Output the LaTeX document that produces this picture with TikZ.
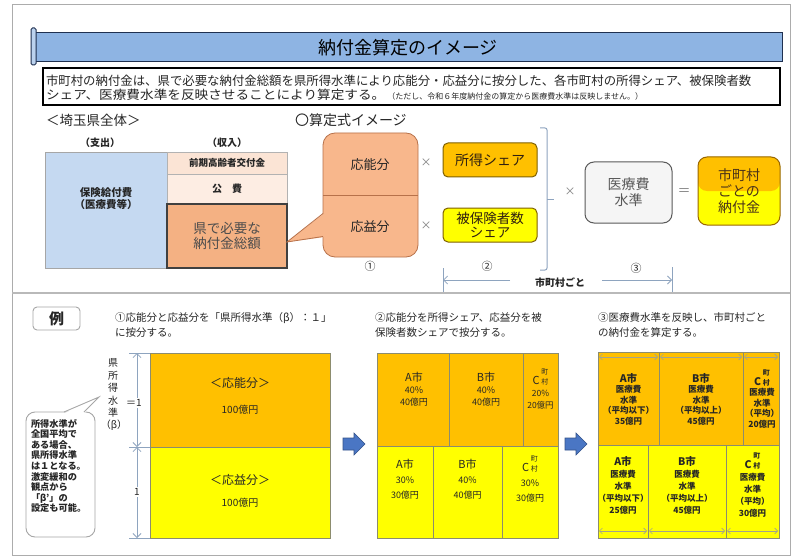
\documentclass[tikz,border=0pt]{standalone}
\usepackage{fontspec}
\usepackage{graphicx}
\setmainfont{Noto Sans CJK JP}
\usetikzlibrary{arrows.meta}
\newcommand\fsz[2]{\fontsize{#1}{#2}\selectfont}
\newcommand\cmc{C\,\shortstack{{\fsz{7}{7}町}\\{\fsz{7}{7}村}}}
\definecolor{tbar}{HTML}{8EB4E3}
\definecolor{tbarline}{HTML}{1F3050}
\definecolor{kblue}{HTML}{C5D9F1}
\definecolor{peachA}{HTML}{FBE4D5}
\definecolor{peachB}{HTML}{FDEDE3}
\definecolor{sorange}{HTML}{F4B183}
\definecolor{callout}{HTML}{F8B78C}
\definecolor{calloutline}{HTML}{B7714A}
\definecolor{gold}{HTML}{FFC000}
\definecolor{yel}{HTML}{FFFF00}
\definecolor{brownline}{HTML}{7F6000}
\definecolor{dimc}{HTML}{8EA4BF}
\definecolor{arrowblue}{HTML}{4A76C4}
\definecolor{gridline}{HTML}{8C8C6E}
\definecolor{txt}{HTML}{262626}
\tikzset{
  lbl/.style={text=txt},
  gridbox/.style={draw=gridline, line width=0.7pt},
  dim/.style={draw=dimc, line width=0.8pt},
  garrow/.style={draw=gridline!80, line width=0.6pt, {Straight Barb[length=3pt]}-{Straight Barb[length=3pt]}},
  barrow/.pic={\draw[fill=arrowblue, draw=arrowblue!70!black, line width=0.6pt] (-11,-6) -- (0,-6) -- (0,-11) -- (11,0) -- (0,11) -- (0,6) -- (-11,6) -- cycle;}
}
\begin{document}
\begin{tikzpicture}[x=1pt,y=-1pt, every node/.style={inner sep=0pt,outer sep=0pt}]
\useasboundingbox[fill=white] (0,0) rectangle (798,559);
\draw[gray!65, line width=1pt] (12,5) rectangle (790,555);

% ---------- title ----------
\node[draw=tbarline, line width=1pt, fill=tbar, minimum width=748pt, minimum height=29pt] (title) at (408,47.5) {\fsz{18}{20}納付金算定のイメージ};
\draw[tbarline, line width=1pt, fill=tbar!60, rounded corners=1.5pt] (31,28) rectangle (36,65);

% ---------- description ----------
\node[draw=black, line width=1.1pt, minimum width=737pt, minimum height=37pt] (desc) at (411.5,86.5) {};
\node[anchor=base west, font=\fsz{12.4}{14}, lbl] (d1) at (46,85.5) {市町村の納付金は、県で必要な納付金総額を県所得水準により応能分・応益分に按分した、各市町村の所得シェア、被保険者数};
\node[anchor=base west, font=\fsz{12.4}{14}, lbl] (d2) at (46,99.5) {\scalebox{1.1}[1]{シェア、医療費水準を反映させることにより算定する。}\,{\fsz{8}{9}（ただし、令和６年度納付金の算定から医療費水準は反映しません。）}};

% ---------- left block ----------
\node[anchor=west, font=\fsz{13.5}{15}, lbl] (zentai) at (46,120) {＜埼玉県全体＞};
\node[font=\fsz{10}{12}\bfseries, lbl] (shishutsu) at (100,143) {（支出）};
\node[font=\fsz{10}{12}\bfseries, lbl] (shunyu) at (227,143) {（収入）};
\node[draw=gray!70, line width=0.8pt, fill=kblue, minimum width=122pt, minimum height=116pt] (kyufu) at (106,210) {};
\node[font=\fsz{10.5}{12}\bfseries, lbl, align=center] (kyufut) at (106,199) {保険給付費\\（医療費等）};
\node[draw=gray!60, line width=0.8pt, fill=peachA, minimum width=120pt, minimum height=22pt, font=\fsz{9.5}{11}\bfseries, lbl] (zenki) at (227,163) {前期高齢者交付金};
\node[draw=gray!60, line width=0.8pt, fill=peachB, minimum width=120pt, minimum height=30pt, font=\fsz{10}{11}\bfseries, lbl] (kouhi) at (227,189) {公\quad 費};
\node[draw=black!75, line width=1.4pt, fill=sorange, minimum width=120pt, minimum height=64pt, font=\fsz{13.5}{15.5}, text=black!70, align=center] (hitsuyou) at (227,236) {県で必要な\\納付金総額};

% ---------- formula ----------
\node[anchor=west, font=\fsz{14}{16}, lbl] (sanshiki) at (295,120) {〇算定式イメージ};
\draw[calloutline, line width=0.8pt, fill=callout, rounded corners=12pt] (323,133) rectangle (418,257);
\fill[callout] (324.5,213) -- (287,242) -- (324.5,237) -- cycle;
\draw[calloutline, line width=0.8pt] (323,213.5) -- (287,242) -- (323,236.5);
\draw[calloutline, line width=0.8pt] (323,195) -- (418,195);
\node[font=\fsz{13}{15}, lbl] (ono) at (370,165) {応能分};
\node[font=\fsz{13}{15}, lbl] (oeki) at (370,227) {応益分};
\node[font=\fsz{11}{12}, lbl] (n1) at (370,266) {①};
\node[font=\fsz{11}{12}, text=gray] (x1) at (426,163) {×};
\node[font=\fsz{11}{12}, text=gray] (x2) at (426,226) {×};
\node[draw=brownline, line width=1pt, fill=gold, rounded corners=5pt, minimum width=94pt, minimum height=34pt, font=\fsz{14}{16}, text=black!75!brown] (shotoku) at (490,160) {所得シェア};
\node[draw=brownline, line width=1pt, fill=yel, rounded corners=5pt, minimum width=94pt, minimum height=34pt, font=\fsz{13.5}{14.5}, text=black!75!brown, align=center] (hihoken) at (490,225) {被保険者数\\シェア};
\node[font=\fsz{11}{12}, lbl] (n2) at (487,266) {②};
\draw[dimc, line width=1pt, rounded corners=2pt] (540,128) -- (547,128) -- (547,270) -- (540,270);
\draw[dimc, line width=1pt] (547,199) -- (554,199);
\node[font=\fsz{11}{12}, text=gray] (x3) at (570,192) {×};
\node[draw=black!65, line width=1pt, fill=gray!8, rounded corners=9pt, minimum width=87pt, minimum height=61pt, font=\fsz{14}{16}, text=black!65, align=center] (iryo) at (628.5,192.5) {医療費\\水準};
\node[font=\fsz{13}{14}, text=gray] (eq) at (684,192) {＝};
\node[draw=brownline!80!orange, line width=1pt, fill=yel, rounded corners=9pt, minimum width=82pt, minimum height=68pt, font=\fsz{14}{16}, text=black!60!brown, align=center,
  path picture={\fill[gold] (path picture bounding box.north west) rectangle (path picture bounding box.east);}] (nofu) at (739,191) {市町村\\ごとの\\納付金};
\coordinate (la1) at (510,280); \coordinate (la2) at (443,280);
\coordinate (lt1) at (443,268); \coordinate (lt2) at (443,292);
\draw[dim, -{Straight Barb[length=4pt]}] (la1) -- (la2);
\draw[dim] (lt1) -- (lt2);
\node[font=\fsz{10}{12}\bfseries, lbl] (goto) at (560,283) {市町村ごと};
\coordinate (ra1) at (602,280); \coordinate (ra2) at (672,280);
\coordinate (rt1) at (672,267); \coordinate (rt2) at (672,292);
\draw[dim, -{Straight Barb[length=4pt]}] (ra1) -- (ra2);
\draw[dim] (rt1) -- (rt2);
\node[font=\fsz{11}{12}, lbl] (n3) at (636,268) {③};

% ---------- separator ----------
\draw[gray!55, line width=1.6pt] (12,293) -- (790,293);

% ---------- example ----------
\node[draw=gray!70, line width=0.9pt, rounded corners=4pt, minimum width=47pt, minimum height=23pt, font=\fsz{15}{16}\bfseries, lbl] (rei) at (56.5,318.5) {例};
\node[anchor=north west, align=left, font=\fsz{10.5}{15}, lbl] (s1) at (115,313) {①応能分と応益分を「県所得水準（β）：１」\\に按分する。};
\node[anchor=north west, align=left, font=\fsz{10.5}{15}, lbl] (s2) at (375,313) {②応能分を所得シェア、応益分を被\\保険者数シェアで按分する。};
\node[anchor=north west, align=left, font=\fsz{10.5}{15}, lbl] (s3) at (598,313) {③医療費水準を反映し、市町村ごと\\の納付金を算定する。};

% panel 1
\draw[gridbox, fill=gold] (150,353) rectangle (330,447);
\draw[gridbox, fill=yel] (150,447) rectangle (330,538);
\node[font=\fsz{12}{14}, lbl] (p1a) at (240,383) {＜応能分＞};
\node[font=\fsz{10}{12}, lbl] (p1b) at (240,410) {100億円};
\node[font=\fsz{12}{14}, lbl] (p1c) at (240,480) {＜応益分＞};
\node[font=\fsz{10}{12}, lbl] (p1d) at (240,503) {100億円};
\coordinate (dt) at (137,353); \coordinate (dm) at (137,447); \coordinate (db) at (137,538);
\draw[dim, {Straight Barb[length=4pt]}-{Straight Barb[length=4pt]}] (dt) -- (dm);
\draw[dim, {Straight Barb[length=4pt]}-{Straight Barb[length=4pt]}] (dm) -- (db);
\draw[dim] (129,353) -- (150,353) (129,447) -- (150,447) (129,538) -- (150,538);
\node[font=\fsz{10}{12.5}, lbl, align=center] (kenshotoku) at (113,388) {県\\所\\得\\水\\準};
\node[font=\fsz{10}{12}, lbl] (beta) at (114,425) {（β）};
\node[font=\fsz{10}{12}, lbl, fill=white, inner sep=1pt] (eq1) at (134,403) {＝1};
\node[font=\fsz{10}{12}, lbl, fill=white, inner sep=1.5pt] (one) at (137,492) {1};
% bubble
\draw[gray!70, line width=0.9pt, fill=white, rounded corners=9pt] (26,412) rectangle (95,537);
\fill[white] (64,413.5) -- (99,397) -- (84,413.5) -- cycle;
\draw[gray!70, line width=0.9pt] (64,412) -- (99,397) -- (84,412);
\node[anchor=north west, align=left, font=\fsz{9.2}{10.6}\bfseries, lbl] (bubtxt) at (31,419) {所得水準が\\全国平均で\\ある場合、\\県所得水準\\は１となる。\\激変緩和の\\観点から\\「β'」の\\設定も可能。};

\pic at (354,444) {barrow};
\pic at (576,444) {barrow};

% panel 2
\draw[gridbox, fill=gold] (377,353) rectangle (558,446);
\draw[gridbox, fill=yel] (377,446) rectangle (558,538);
\draw[gridbox] (449,353) -- (449,446) (523,353) -- (523,446);
\draw[gridbox] (433,446) -- (433,538) (502,446) -- (502,538);
\node[font=\fsz{9}{12}, lbl, align=center] (m1) at (414,389) {{\fsz{11}{14}A市}\\40\%\\40億円};
\node[font=\fsz{9}{12}, lbl, align=center] (m2) at (486,389) {{\fsz{11}{14}B市}\\40\%\\40億円};
\node[font=\fsz{8.5}{12}, lbl, align=center] (m3) at (540.5,389) {{\fsz{11}{14}\cmc}\\20\%\\20億円};
\node[font=\fsz{9}{15}, lbl, align=center] (m4) at (405,479) {{\fsz{11}{14}A市}\\30\%\\30億円};
\node[font=\fsz{9}{15}, lbl, align=center] (m5) at (467.5,479) {{\fsz{11}{14}B市}\\40\%\\40億円};
\node[font=\fsz{9}{15}, lbl, align=center] (m6) at (530,479) {{\fsz{11}{14}\cmc}\\30\%\\30億円};

% panel 3
\draw[gridbox, fill=gold] (598,352) rectangle (779,445);
\draw[gridbox, fill=yel] (598,445) rectangle (779,538);
\draw[gridbox] (659,352) -- (659,445) (743,352) -- (743,445);
\draw[gridbox] (648,445) -- (648,538) (726,445) -- (726,538);
\draw[garrow] (599,357) -- (658,357);
\draw[garrow] (660,357) -- (742,357);
\draw[garrow] (744,357) -- (778,357);
\draw[garrow] (599,531) -- (647,531);
\draw[garrow] (649,531) -- (725,531);
\draw[garrow] (727,531) -- (778,531);
\node[font=\fsz{8.5}{10.5}\bfseries, lbl, align=center] (r1) at (628.5,399) {{\fsz{10.5}{13}A市}\\医療費\\水準\\（平均以下）\\35億円};
\node[font=\fsz{8.5}{10.5}\bfseries, lbl, align=center] (r2) at (701,399) {{\fsz{10.5}{13}B市}\\医療費\\水準\\（平均以上）\\45億円};
\node[font=\fsz{8.5}{10.5}\bfseries, lbl, align=center] (r3) at (762,399) {{\fsz{10.5}{13}\cmc}\\医療費\\水準\\（平均）\\20億円};
\node[font=\fsz{8.5}{12}\bfseries, lbl, align=center] (r4) at (623,485) {{\fsz{10.5}{13}A市}\\医療費\\水準\\（平均以下）\\25億円};
\node[font=\fsz{8.5}{12}\bfseries, lbl, align=center] (r5) at (687,485) {{\fsz{10.5}{13}B市}\\医療費\\水準\\（平均以上）\\45億円};
\node[font=\fsz{8.5}{12}\bfseries, lbl, align=center] (r6) at (752.5,485) {{\fsz{10.5}{13}\cmc}\\医療費\\水準\\（平均）\\30億円};
\end{tikzpicture}
\end{document}
